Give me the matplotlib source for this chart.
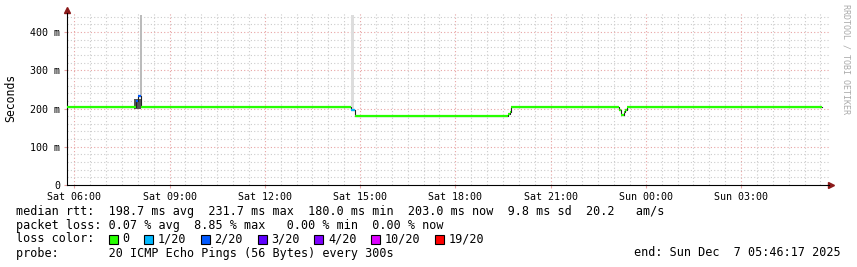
import matplotlib
matplotlib.use("Agg")
import matplotlib.pyplot as plt
from matplotlib.patches import Rectangle

# median rtt, 5 minute steps (hours since Sat 00:00, value in ms)
step_start = [5.77, 7.93, 8.02, 8.10, 14.73, 14.83, 19.65, 19.71, 19.76, 23.15, 23.23, 23.30, 23.36, 23.42]
step_end = 29.55
median_ms = [203, 220, 231.7, 203, 195, 180, 185, 192, 203, 195, 183, 190, 196, 203]
loss_of_20 = [0, 2, 2, 0, 1, 0, 0, 0, 0, 0, 0, 0, 0, 0]

# smoke (ping spread) at the spikes: start, end, low, high
smoke_t0 = [7.88, 8.07, 14.70]
smoke_t1 = [8.10, 8.12, 14.80]
smoke_lo = [200, 232, 200]
smoke_hi = [226, 445, 445]

x_ticks = [6, 9, 12, 15, 18, 21, 24, 27]
x_labels = ["Sat 06:00", "Sat 09:00", "Sat 12:00", "Sat 15:00",
            "Sat 18:00", "Sat 21:00", "Sun 00:00", "Sun 03:00"]
y_ticks = [0, 100, 200, 300, 400]
y_labels = ["0", "100 m", "200 m", "300 m", "400 m"]

loss_steps = [0, 1, 2, 3, 4, 10, 19]
loss_names = ["0", "1/20", "2/20", "3/20", "4/20", "10/20", "19/20"]
loss_colors = ["#26ff00", "#00b8ff", "#0059ff", "#5e00ff", "#7e00ff", "#dd00ff", "#ff0000"]

mono = "DejaVu Sans Mono"
W, H = 857, 267
fig = plt.figure(figsize=(W / 100, H / 100), dpi=100)
ax = fig.add_axes([67 / W, 82 / H, 762 / W, 172 / H])
ax.set_xlim(5.77, 29.77)
ax.set_ylim(0, 450)

# grid: red every 3 h / 100 m, grey every 30 min / 20 m
for h in range(6, 30):
    for half in (0, 0.5):
        t = h + half
        if t % 3 == 0:
            ax.axvline(t, color="#e8a4a4", lw=0.8, ls=(0, (1, 2)), zorder=0)
        else:
            ax.axvline(t, color="#cccccc", lw=0.8, ls=(0, (1, 2)), zorder=0)
for v in range(20, 450, 20):
    if v % 100 == 0:
        ax.axhline(v, color="#e8a4a4", lw=0.8, ls=(0, (1, 2)), zorder=0)
    else:
        ax.axhline(v, color="#cccccc", lw=0.8, ls=(0, (1, 2)), zorder=0)

# smoke
smoke_colors = ["#555555", "#bbbbbb", "#dddddd"]
for i in range(len(smoke_t0)):
    ax.fill_between([smoke_t0[i], smoke_t1[i]], smoke_lo[i], smoke_hi[i],
                    color=smoke_colors[i], lw=0, zorder=1)

# median line: black risers, coloured treads
ends = step_start[1:] + [step_end]
ax.step(step_start + [step_end], median_ms + [median_ms[-1]], where="post",
        color="#222222", lw=0.8, zorder=2)
for t0, t1, v, l in zip(step_start, ends, median_ms, loss_of_20):
    c = loss_colors[loss_steps.index(l)]
    ax.plot([t0, t1], [v, v], color=c, lw=1.6, solid_capstyle="butt", zorder=3)

for s in ["top", "right"]:
    ax.spines[s].set_visible(False)
ax.spines["left"].set_linewidth(0.8)
ax.spines["bottom"].set_linewidth(0.8)
ax.set_xticks(x_ticks)
ax.set_xticklabels(x_labels, family=mono, fontsize=7.2)
ax.set_yticks(y_ticks)
ax.set_yticklabels(y_labels, family=mono, fontsize=7.2)
ax.tick_params(length=2, width=0.8, pad=3, color="#e8a4a4")

# axis arrows
ax.plot(1.003, 0, marker=">", ms=4, color="#8b1a1a", transform=ax.transAxes, clip_on=False)
ax.plot(0, 1.015, marker="^", ms=4, color="#8b1a1a", transform=ax.transAxes, clip_on=False)

fig.text(11 / W, 1 - 98 / H, "Seconds", family=mono, fontsize=8.3,
         rotation=90, ha="center", va="center")
fig.text(846 / W, 1 - 4 / H, "RRDTOOL / TOBI OETIKER", family=mono, fontsize=6,
         rotation=270, ha="center", va="top", color="#aaaaaa")

# legend text
fs = 8.48
cw = 0.602 * fs * 100 / 72
x0 = 16
lines = [
    "median rtt:  198.7 ms avg  231.7 ms max  180.0 ms min  203.0 ms now  9.8 ms sd  20.2   am/s",
    "packet loss: 0.07 % avg  8.85 % max   0.00 % min  0.00 % now",
    "",
    "probe:       20 ICMP Echo Pings (56 Bytes) every 300s",
]
ys = [211, 225, 239, 253]
for s, y in zip(lines, ys):
    fig.text(x0 / W, 1 - y / H, s, family=mono, fontsize=fs, va="center", ha="left")

col = 13
fig.text(x0 / W, 1 - ys[2] / H, "loss color:", family=mono, fontsize=fs, va="center", ha="left")
for name, c in zip(loss_names, loss_colors):
    xs = x0 + col * cw
    fig.patches.append(Rectangle(((xs + 0.5) / W, (H - ys[2] - 5) / H), 9 / W, 9 / H,
                                 facecolor=c, edgecolor="black", lw=0.8,
                                 transform=fig.transFigure, figure=fig))
    fig.text((x0 + (col + 2) * cw) / W, 1 - ys[2] / H, name, family=mono,
             fontsize=fs, va="center", ha="left")
    col += 2 + len(name) + 2

fig.text(841 / W, 1 - ys[3] / H, "end: Sun Dec  7 05:46:17 2025", family=mono,
         fontsize=fs, va="center", ha="right")

fig.savefig("out.png", dpi=100)
